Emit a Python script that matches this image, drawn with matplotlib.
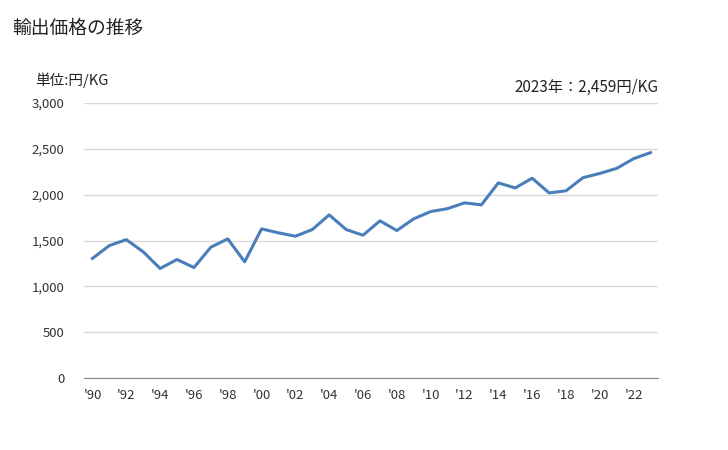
import matplotlib
matplotlib.use('Agg')
import matplotlib.pyplot as plt
from matplotlib.ticker import FuncFormatter

plt.rcParams['font.family'] = ['Noto Sans CJK JP', 'DejaVu Sans']

# Export price (yen/kg), 1990-2023
years = list(range(1990, 2024))
price = [1305, 1445, 1510, 1377, 1195, 1293, 1205, 1427, 1518, 1268,
         1627, 1584, 1547, 1620, 1780, 1620, 1558, 1715, 1609, 1737,
         1816, 1848, 1911, 1889, 2129, 2074, 2180, 2020, 2042, 2185,
         2232, 2287, 2393, 2459]

tick_years = years[::2]
tick_labels = ["'%02d" % (y % 100) for y in tick_years]
y_ticks = [0, 500, 1000, 1500, 2000, 2500, 3000]

fig = plt.figure(figsize=(7.28, 4.5), dpi=100)
ax = fig.add_axes([0.1154, 0.16, 0.7886, 0.611])

ax.plot(years, price, color='#4a7ebb', linewidth=2.2)

ax.set_xlim(1989.5, 2023.45)
ax.set_ylim(0, 3000)
ax.set_xticks(tick_years)
ax.set_xticklabels(tick_labels)
ax.set_yticks(y_ticks)
ax.yaxis.set_major_formatter(FuncFormatter(lambda v, p: f'{int(v):,}'))

ax.grid(axis='y', color='#d9d9d9', linewidth=1.0)
ax.set_axisbelow(True)
for s in ['top', 'right', 'left']:
    ax.spines[s].set_visible(False)
ax.spines['bottom'].set_color('#888888')
ax.tick_params(axis='both', length=0, labelsize=9.5, colors='#333333')
ax.tick_params(axis='x', pad=8)
ax.tick_params(axis='y', pad=14)

fig.text(12 / 728, 1 - 28 / 450, '輸出価格の推移', fontsize=13.5, va='center', ha='left', color='#222222')
fig.text(35 / 728, 1 - 80 / 450, '単位:円/KG', fontsize=10.5, va='center', ha='left', color='#222222')
fig.text(658 / 728, 1 - 87 / 450, '2023年：2,459円/KG', fontsize=11, va='center', ha='right', color='#222222')

plt.savefig('out.png', dpi=100)
